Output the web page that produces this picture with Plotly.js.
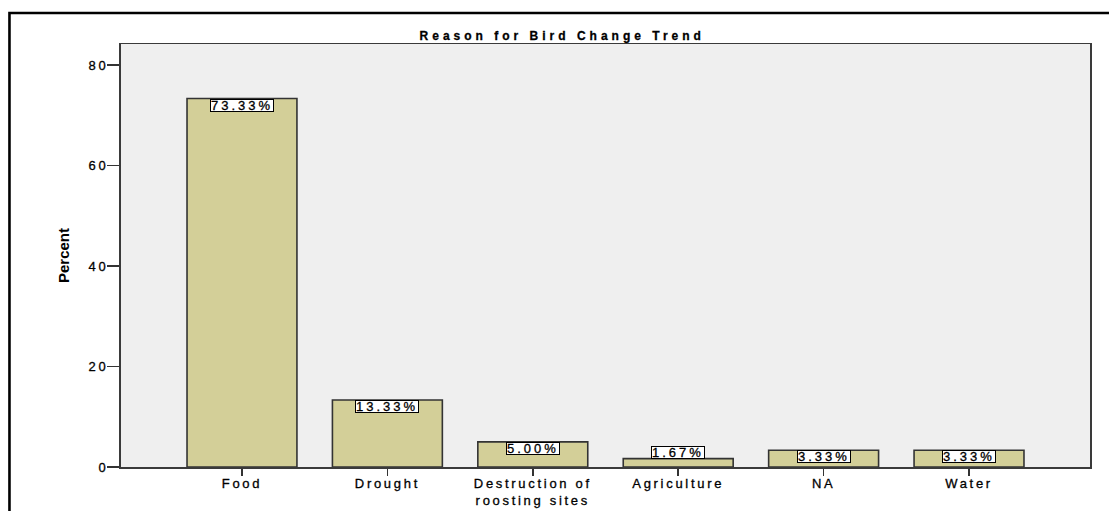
<!DOCTYPE html>
<html>
<head>
<meta charset="utf-8">
<script src="https://cdn.plot.ly/plotly-3.0.1.min.js"></script>
<style>
  html, body { margin: 0; padding: 0; background: #ffffff; }
  #chart { width: 1109px; height: 511px; }
  /* wide, airy lettering in the SPSS style */
  g.xtick > text, g.ytick > text { letter-spacing: 2.7px; stroke: #000; stroke-width: 0.3px; }
  text.gtitle { letter-spacing: 4px; stroke: #000; stroke-width: 0.3px; }
  text.annotation-text { letter-spacing: 3px; stroke: #000; stroke-width: 0.3px; }
</style>
</head>
<body>
<div id="chart"></div>
<script>
// Reasons given for the change in bird numbers (percent of respondents)
const categories = ["Food", "Drought", "Destruction of<br>roosting sites", "Agriculture", "NA", "Water"];
const percents = [73.33, 13.33, 5.00, 1.67, 3.33, 3.33];
const valueLabels = ["73.33%", "13.33%", "5.00%", "1.67%", "3.33%", "3.33%"];
const yTicks = [0, 20, 40, 60, 80];

const FONT = '"Liberation Sans", Arial, sans-serif';

const trace = {
  type: 'bar',
  x: categories,
  y: percents,
  marker: {
    color: '#d3cf98',
    line: { color: '#333333', width: 1.6 }
  },
  hoverinfo: 'x+y'
};

// Value boxes: inside the top of the bar, or sitting on it when the bar is too short
const annotations = categories.map((c, i) => {
  const inside = percents[i] >= 3;
  return {
    x: c, y: percents[i], xref: 'x', yref: 'y',
    text: valueLabels[i],
    showarrow: false,
    yanchor: inside ? 'top' : 'bottom',
    xanchor: 'center',
    height: 11,
    borderpad: 0,
    bgcolor: '#ffffff',
    bordercolor: '#000000',
    borderwidth: 1,
    font: { family: FONT, size: 13, color: '#000000' }
  };
});

const layout = {
  width: 1109,
  height: 511,
  margin: { l: 121, r: 19, t: 44, b: 44, pad: 0 },
  paper_bgcolor: '#ffffff',
  plot_bgcolor: '#efefef',
  bargap: 0.244,
  showlegend: false,
  title: {
    text: '<b>Reason for Bird Change Trend</b>',
    font: { family: FONT, size: 12, color: '#000000' },
    xref: 'container', x: 0.507, xanchor: 'center',
    yref: 'container', y: 1 - 36 / 511, yanchor: 'middle'
  },
  xaxis: {
    type: 'category',
    range: [-0.832, 5.832],
    showgrid: false,
    zeroline: false,
    showline: true,
    linecolor: '#3a3a3a',
    linewidth: 1.5,
    mirror: true,
    ticks: 'outside',
    ticklen: 7,
    tickwidth: 1.5,
    tickcolor: '#333333',
    ticklabelstandoff: -3,
    tickfont: { family: FONT, size: 13, color: '#000000' },
    fixedrange: true
  },
  yaxis: {
    range: [0, 84.18],
    tickvals: yTicks,
    ticktext: yTicks.map(String),
    showgrid: false,
    zeroline: false,
    showline: true,
    linecolor: '#3a3a3a',
    linewidth: 2,
    mirror: true,
    ticks: 'outside',
    ticklen: 12,
    tickwidth: 1.5,
    tickcolor: '#333333',
    ticklabelstandoff: -4,
    tickfont: { family: FONT, size: 13, color: '#000000' },
    title: {
      text: '<b>Percent</b>',
      font: { family: FONT, size: 15, color: '#000000' },
      standoff: 15
    },
    fixedrange: true
  },
  annotations: annotations,
  shapes: [
    {
      // outer chart frame (left and top edges)
      type: 'path', xref: 'paper', yref: 'paper',
      path: 'M -0.1151 -0.13 L -0.1151 1.0733 L 1.03 1.0733',
      line: { color: '#000000', width: 2.6 }
    }
  ]
};

Plotly.newPlot('chart', [trace], layout, { displayModeBar: false, staticPlot: true });
</script>
</body>
</html>
